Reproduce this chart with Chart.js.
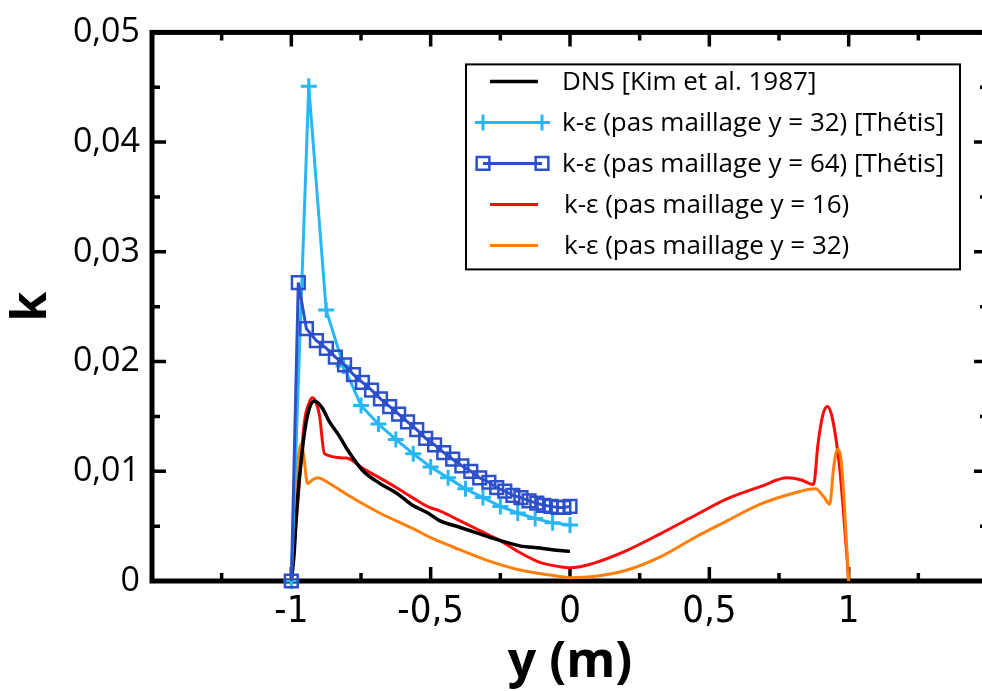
<!DOCTYPE html>
<html>
<head>
<meta charset="utf-8">
<script src="https://cdn.jsdelivr.net/npm/chart.js@4.4.1/dist/chart.umd.min.js"></script>
<style>
  html, body { margin: 0; padding: 0; background: #fff; overflow: hidden; }
  canvas { display: block; }
</style>
</head>
<body>
<canvas id="chart" width="1000" height="691"></canvas>
<script>
// axis ticks
const xTickValues = [-1, -0.5, 0, 0.5, 1];
const xTickLabels = ['-1', '-0,5', '0', '0,5', '1'];
const xMinorTicks = [-1.25, -0.75, -0.25, 0.25, 0.75, 1.25];
const yTickValues = [0, 0.01, 0.02, 0.03, 0.04, 0.05];
const yTickLabels = ['0', '0,01', '0,02', '0,03', '0,04', '0,05'];
const yMinorTicks = [0.005, 0.015, 0.025, 0.035, 0.045];

const seriesLabels = [
  'DNS [Kim et al. 1987]',
  'k-\u03b5 (pas maillage y = 32) [Th\u00e9tis]',
  'k-\u03b5 (pas maillage y = 64) [Th\u00e9tis]',
  'k-\u03b5 (pas maillage y = 16)',
  'k-\u03b5 (pas maillage y = 32)'
];

// DNS
const dnsX = [-1, -0.99, -0.982, -0.96, -0.942, -0.917, -0.89, -0.863, -0.83, -0.802, -0.745, -0.683, -0.622, -0.565, -0.51, -0.468, -0.396, -0.324, -0.252, -0.18, -0.108, -0.05, 0];
const dnsY = [0, 0.0025, 0.0061, 0.0121, 0.0151, 0.0164, 0.0158, 0.0145, 0.0133, 0.0121, 0.0101, 0.0089, 0.0080, 0.0069, 0.0062, 0.0055, 0.0049, 0.0043, 0.0037, 0.0032, 0.0030, 0.0028, 0.0027];

// Thetis, 32 cells
const th32X = [-1, -0.9375, -0.875, -0.8125, -0.75, -0.6875, -0.625, -0.5625, -0.5, -0.4375, -0.375, -0.3125, -0.25, -0.1875, -0.125, -0.0625, 0];
const th32Y = [0, 0.0451, 0.0247, 0.0196, 0.0160, 0.0143, 0.0129, 0.0116, 0.0104, 0.0094, 0.0084, 0.0076, 0.0068, 0.0062, 0.0057, 0.0053, 0.0051];

// Thetis, 64 cells
const th64X = [-1, -0.975, -0.946, -0.91, -0.874, -0.842, -0.809, -0.777, -0.745, -0.712, -0.68, -0.647, -0.615, -0.583, -0.55, -0.518, -0.486, -0.453, -0.421, -0.388, -0.356, -0.324, -0.291, -0.263, -0.234, -0.205, -0.176, -0.147, -0.119, -0.094, -0.068, -0.043, -0.022, 0];
const th64Y = [0, 0.0272, 0.0230, 0.0219, 0.0212, 0.0204, 0.0197, 0.0188, 0.0181, 0.0174, 0.0166, 0.0159, 0.0152, 0.0145, 0.0138, 0.0130, 0.0124, 0.0117, 0.0111, 0.0105, 0.0100, 0.0094, 0.0090, 0.0085, 0.0082, 0.0078, 0.0076, 0.0073, 0.0071, 0.0069, 0.0068, 0.0067, 0.0067, 0.0068];

// k-eps, 16 cells
const ke16X = [-1, -0.985, -0.971, -0.953, -0.935, -0.924, -0.912, -0.899, -0.881, -0.802, -0.745, -0.683, -0.622, -0.565, -0.504, -0.468, -0.396, -0.324, -0.252, -0.18, -0.108, -0.036, 0, 0.036, 0.083, 0.205, 0.324, 0.443, 0.565, 0.683, 0.78, 0.83, 0.874, 0.89, 0.908, 0.924, 0.938, 0.953, 0.967, 0.982, 0.993, 1];
const ke16Y = [0, 0.0045, 0.0091, 0.0145, 0.0163, 0.0167, 0.0163, 0.0151, 0.0116, 0.0112, 0.0103, 0.0094, 0.0085, 0.0076, 0.0067, 0.0064, 0.0055, 0.0046, 0.0037, 0.0026, 0.0017, 0.0013, 0.0012, 0.0013, 0.0016, 0.0028, 0.0043, 0.0059, 0.0075, 0.0086, 0.0094, 0.0092, 0.0088, 0.0125, 0.0152, 0.0159, 0.0152, 0.0132, 0.0105, 0.0061, 0.0025, 0];

// k-eps, 32 cells
const ke32X = [-1, -0.99, -0.982, -0.972, -0.964, -0.955, -0.942, -0.925, -0.906, -0.87, -0.802, -0.683, -0.565, -0.504, -0.42, -0.3, -0.18, -0.06, 0, 0.083, 0.205, 0.324, 0.443, 0.565, 0.683, 0.802, 0.881, 0.91, 0.932, 0.946, 0.96, 0.972, 0.982, 0.991, 1];
const ke32Y = [0, 0.0045, 0.0091, 0.0118, 0.0125, 0.0113, 0.0089, 0.0092, 0.0094, 0.0090, 0.0079, 0.0062, 0.0048, 0.0040, 0.0031, 0.0019, 0.0010, 0.0005, 0.0003, 0.0004, 0.0010, 0.0022, 0.0039, 0.0055, 0.0070, 0.0080, 0.0084, 0.0077, 0.0070, 0.0103, 0.0120, 0.0112, 0.0080, 0.0040, 0];

const colors = ['#000000', '#29b6f6', '#2c4fcc', '#ff0a0a', '#ff7f0a'];

function pts(xs, ys) {
  return xs.map((x, i) => ({x: x, y: ys[i]}));
}

const tickFontY = {family: '"Open Sans", sans-serif', size: 34};
const tickFontX = {family: '"Liberation Sans Narrow", "DejaVu Sans Condensed", "Open Sans", sans-serif', size: 38};

// frame with inward ticks on all four sides
const framePlugin = {
  id: 'frame',
  beforeDatasetsDraw(chart) {
    const {ctx, chartArea: a, scales: {x, y}} = chart;
    ctx.save();
    ctx.strokeStyle = '#000';
    ctx.lineWidth = 3.5;
    ctx.beginPath();
    const xt = (v, len) => {
      const p = x.getPixelForValue(v);
      ctx.moveTo(p, a.bottom); ctx.lineTo(p, a.bottom - len);
      ctx.moveTo(p, a.top); ctx.lineTo(p, a.top + len);
    };
    const yt = (v, len) => {
      const p = y.getPixelForValue(v);
      ctx.moveTo(a.left, p); ctx.lineTo(a.left + len, p);
      ctx.moveTo(a.right, p); ctx.lineTo(a.right - len, p);
    };
    xTickValues.forEach(v => xt(v, 14));
    xMinorTicks.forEach(v => xt(v, 8));
    yTickValues.forEach(v => yt(v, 14));
    yMinorTicks.forEach(v => yt(v, 8));
    ctx.stroke();
    ctx.lineWidth = 5;
    ctx.strokeRect(a.left, a.top, a.right - a.left, a.bottom - a.top);
    ctx.restore();
  }
};

// boxed legend inside the plot
const legendPlugin = {
  id: 'boxLegend',
  afterDraw(chart) {
    const {ctx, chartArea: a} = chart;
    const L = a.left + 314, T = a.top + 32, W = 494, H = 205;
    ctx.save();
    ctx.fillStyle = '#fff';
    ctx.fillRect(L, T, W, H);
    ctx.strokeStyle = '#000';
    ctx.lineWidth = 2;
    ctx.strokeRect(L, T, W, H);
    ctx.font = '26px "Open Sans", sans-serif';
    ctx.textBaseline = 'middle';
    chart.data.datasets.forEach((ds, i) => {
      const cy = T + 17 + i * 41;
      const marked = ds.pointRadius > 0;
      const x0 = L + (marked ? 17 : 24), x1 = L + (marked ? 76 : 72);
      ctx.strokeStyle = ds.borderColor;
      ctx.lineWidth = ds.borderWidth;
      ctx.beginPath();
      ctx.moveTo(x0, cy); ctx.lineTo(x1, cy);
      ctx.stroke();
      if (marked) {
        ctx.fillStyle = 'rgba(0,0,0,0)';
        ctx.lineWidth = ds.pointBorderWidth;
        [x0, x1].forEach(px => Chart.helpers.drawPoint(ctx, {
          pointStyle: ds.pointStyle, radius: ds.pointRadius, rotation: 0, borderWidth: ds.pointBorderWidth
        }, px, cy));
      }
      ctx.fillStyle = '#000';
      ctx.fillText(ds.label, L + (marked || i === 0 ? 96 : 98), cy + 1);
    });
    ctx.restore();
  }
};

const lineBase = {
  backgroundColor: 'rgba(0,0,0,0)',
  pointBackgroundColor: 'rgba(0,0,0,0)',
  borderWidth: 3,
  pointRadius: 0,
  clip: false,
  tension: 0
};

new Chart(document.getElementById('chart'), {
  type: 'line',
  data: {
    datasets: [
      Object.assign({}, lineBase, {
        label: seriesLabels[0], data: pts(dnsX, dnsY), borderColor: colors[0],
        borderWidth: 3.5, cubicInterpolationMode: 'monotone', order: 3
      }),
      Object.assign({}, lineBase, {
        label: seriesLabels[1], data: pts(th32X, th32Y), borderColor: colors[1],
        pointBorderColor: colors[1], pointStyle: 'cross', pointRadius: 8, pointBorderWidth: 3, order: 2
      }),
      Object.assign({}, lineBase, {
        label: seriesLabels[2], data: pts(th64X, th64Y), borderColor: colors[2],
        pointBorderColor: colors[2], pointStyle: 'rect', pointRadius: 9, pointBorderWidth: 2.5, order: 1
      }),
      Object.assign({}, lineBase, {
        label: seriesLabels[3], data: pts(ke16X, ke16Y), borderColor: colors[3],
        cubicInterpolationMode: 'monotone', order: 5
      }),
      Object.assign({}, lineBase, {
        label: seriesLabels[4], data: pts(ke32X, ke32Y), borderColor: colors[4],
        cubicInterpolationMode: 'monotone', order: 4
      })
    ]
  },
  options: {
    responsive: false,
    animation: false,
    events: [],
    layout: {padding: {top: 25, right: 12, left: 0, bottom: 0}},
    plugins: {legend: {display: false}, tooltip: {enabled: false}},
    scales: {
      x: {
        type: 'linear', min: -1.5, max: 1.5,
        grid: {display: false, drawTicks: false},
        border: {display: false},
        afterBuildTicks: s => { s.ticks = xTickValues.map(v => ({value: v})); },
        afterFit: s => { s.height = 110; },
        ticks: {
          padding: 8, color: '#000', font: tickFontX, maxRotation: 0, autoSkip: false,
          callback: (v, i) => xTickLabels[i]
        },
        title: {
          display: true, text: 'y (m)', color: '#000',
          font: {family: '"Open Sans", sans-serif', size: 50, weight: 'bold'},
          padding: {top: 0, bottom: -2}
        }
      },
      y: {
        type: 'linear', min: 0, max: 0.05,
        grid: {display: false, drawTicks: false},
        border: {display: false},
        afterBuildTicks: s => { s.ticks = yTickValues.map(v => ({value: v})); },
        afterFit: s => { s.width = 152; },
        ticks: {
          padding: 12, color: '#000', font: tickFontY, autoSkip: false,
          callback: (v, i) => yTickLabels[i]
        },
        title: {
          display: true, text: 'k', color: '#000',
          font: {family: '"Open Sans", sans-serif', size: 48, weight: 'bold'},
          padding: {top: 4, bottom: 0}
        }
      }
    }
  },
  plugins: [framePlugin, legendPlugin]
});
</script>
</body>
</html>
